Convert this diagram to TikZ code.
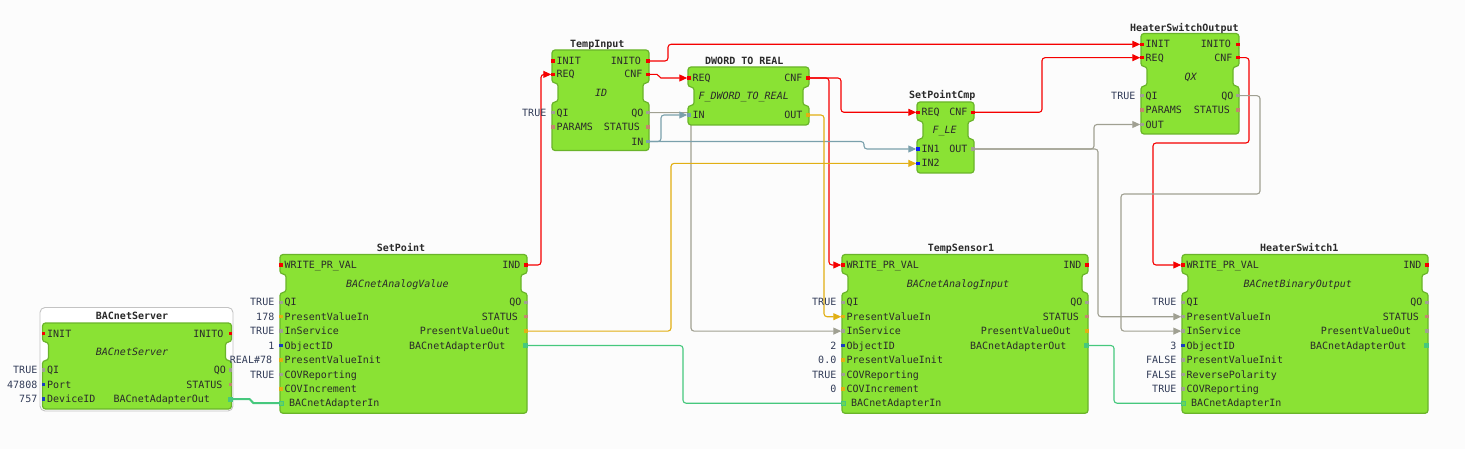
\documentclass[tikz,border=0pt]{standalone}
\usepackage{fontspec}
\newfontfamily\dmono{DejaVu Sans Mono}
\usetikzlibrary{arrows.meta}
\definecolor{bgc}{RGB}{252,252,252}
\definecolor{fbfill}{RGB}{138,226,52}
\definecolor{fbdraw}{RGB}{106,180,42}
\definecolor{evc}{RGB}{245,0,0}
\definecolor{boolc}{RGB}{160,160,146}
\definecolor{dwc}{RGB}{122,160,172}
\definecolor{realc}{RGB}{225,175,20}
\definecolor{intc}{RGB}{25,60,190}
\definecolor{anyc}{RGB}{10,30,250}
\definecolor{strc}{RGB}{195,135,110}
\definecolor{adc}{RGB}{70,200,125}
\definecolor{lblc}{RGB}{42,42,42}
\definecolor{cstc}{RGB}{50,60,88}
\definecolor{framec}{RGB}{195,195,195}
\pgfdeclarelayer{back}
\pgfdeclarelayer{wires}
\pgfsetlayers{back,wires,main}
\tikzset{
  fb/.style={fill=fbfill, draw=fbdraw, line width=1.2pt, rounded corners=3pt},
  pmark/.style={rectangle, inner sep=0pt, minimum width=3.5pt, minimum height=3.5pt, draw=none},
  adout/.style={rectangle, inner sep=0pt, minimum width=5pt, minimum height=5pt, fill=adc},
  adin/.style={rectangle, inner sep=0pt, minimum width=4pt, minimum height=4.5pt, draw=adc, line width=0.9pt, fill=adc!45!fbfill},
  plab/.style={inner sep=0pt, text height=7.2pt, text depth=0pt, font=\dmono\fontsize{10}{12}\selectfont, text=lblc},
  cval/.style={plab, text=cstc},
  ttl/.style={inner sep=0pt, text height=7.2pt, text depth=0pt, font=\dmono\bfseries\fontsize{10}{12}\selectfont, text=lblc},
  tname/.style={inner sep=0pt, text height=7.2pt, text depth=0pt, font=\dmono\itshape\fontsize{10}{12}\selectfont, text=lblc},
  wire/.style={line width=1.1pt, rounded corners=3pt},
  tip/.style={-{Triangle[length=8pt,width=7pt]}},
  evw/.style={wire, draw=evc, tip},
  boolw/.style={wire, draw=boolc, tip},
  dww/.style={wire, draw=dwc, tip},
  realw/.style={wire, draw=realc, tip},
  adw/.style={wire, draw=adc},
  frame/.style={fill=white, draw=framec, line width=0.9pt, rounded corners=5pt}
}
% L R T Eb Dt B
\newcommand\fbshape[6]{\draw[fb] ({(#1+#2)/2},#3) -- (#2,#3) -- (#2,#4) -- ({#2-6},#4) -- ({#2-6},#5) -- (#2,#5) -- (#2,#6) -- (#1,#6) -- (#1,#5) -- ({#1+6},#5) -- ({#1+6},#4) -- (#1,#4) -- (#1,#3) -- cycle;}
% name, x, y, marker options, label
\newcommand\pin[5]{\node[pmark,#4] (#1) at ({#2+1.2},#3) {}; \node[plab,anchor=west] (#1-t) at ({#2+4.5},#3) {#5};}
% name, x, y, marker options, label, extra right offset
\newcommand\pout[6]{\node[pmark,#4] (#1) at ({#2-1.2},#3) {}; \node[plab,anchor=east] (#1-t) at ({#2-5.5-#6},#3) {#5};}
\newcommand\adpin[4]{\node[adin] (#1) at ({#2+1.5},#3) {}; \node[plab,anchor=west] (#1-t) at ({#2+9},#3) {#4};}
\newcommand\adpout[4]{\node[adout] (#1) at ({#2-1.5},#3) {}; \node[plab,anchor=east] (#1-t) at ({#2-21.3},#3) {#4};}
\newcommand\cst[4]{\node[cval,anchor=east] (#1) at ({#2-5.5},#3) {#4};}
\begin{document}
\begin{tikzpicture}[x=1pt,y=-1pt]
\useasboundingbox (0,0) rectangle (1465,449);
\begin{pgfonlayer}{back}
\fill[bgc] (0,0) rectangle (1465,449);
\draw[frame] (40,307.5) rectangle (233,411);
\end{pgfonlayer}

% ---------------- TempInput
\fbshape{552}{649}{50}{83}{102}{150.5}
\node[ttl,anchor=west] (TI-title) at (570,44) {TempInput};
\node[tname,anchor=west] (TI-type) at (595,92.5) {ID};
\pin{TI-INIT}{552}{61}{fill=evc}{INIT}
\pin{TI-REQ}{552}{74.4}{fill=evc}{REQ}
\pout{TI-INITO}{649}{61}{fill=evc}{INITO}{2.4}
\pout{TI-CNF}{649}{74.4}{fill=evc}{CNF}{0.9}
\pin{TI-QI}{552}{112.7}{fill=boolc}{QI}
\pin{TI-PARAMS}{552}{127.1}{fill=strc}{PARAMS}
\pout{TI-QO}{649}{112.7}{fill=boolc}{QO}{0}
\pout{TI-STATUS}{649}{127.1}{fill=strc}{STATUS}{3.4}
\pout{TI-IN}{649}{141.5}{fill=dwc}{IN}{0}
\cst{TI-c1}{552}{112.7}{TRUE}

% ---------------- DWORD TO REAL
\fbshape{688}{809}{67}{87}{105.5}{125}
\node[ttl,anchor=west] (DR-title) at (705,61) {DWORD TO REAL};
\node[tname,anchor=west] (DR-type) at (698.3,96) {F\_DWORD\_TO\_REAL};
\pin{DR-REQ}{688}{78}{fill=evc}{REQ}
\pout{DR-CNF}{809}{78}{fill=evc}{CNF}{0.9}
\pin{DR-IN}{688}{115}{fill=dwc}{IN}
\pout{DR-OUT}{809}{115}{fill=realc}{OUT}{0.9}

% ---------------- SetPointCmp
\fbshape{917}{974}{102}{121}{139}{173}
\node[ttl,anchor=west] (SC-title) at (909,95) {SetPointCmp};
\node[tname,anchor=west] (SC-type) at (932.3,130) {F\_LE};
\pin{SC-REQ}{917}{112.3}{fill=evc}{REQ}
\pout{SC-CNF}{974}{112.3}{fill=evc}{CNF}{0.9}
\pin{SC-IN1}{917}{149}{fill=anyc}{IN1}
\pin{SC-IN2}{917}{163.4}{fill=anyc}{IN2}
\pout{SC-OUT}{974}{149}{fill=boolc}{OUT}{0.9}

% ---------------- HeaterSwitchOutput
\fbshape{1141}{1239}{33.5}{66.5}{86}{134}
\node[ttl,anchor=west] (HO-title) at (1130,27.5) {HeaterSwitchOutput};
\node[tname,anchor=west] (HO-type) at (1184.3,76.5) {QX};
\pin{HO-INIT}{1141}{44.3}{fill=evc}{INIT}
\pin{HO-REQ}{1141}{57.7}{fill=evc}{REQ}
\pout{HO-INITO}{1239}{44.3}{fill=evc}{INITO}{2.4}
\pout{HO-CNF}{1239}{57.7}{fill=evc}{CNF}{0.9}
\pin{HO-QI}{1141}{95.7}{fill=boolc}{QI}
\pin{HO-PARAMS}{1141}{110.1}{fill=strc}{PARAMS}
\pin{HO-OUT}{1141}{124.5}{fill=boolc}{OUT}
\pout{HO-QO}{1239}{95.7}{fill=boolc}{QO}{0}
\pout{HO-STATUS}{1239}{110.1}{fill=strc}{STATUS}{3.4}
\cst{HO-c1}{1141}{95.7}{TRUE}

% ---------------- BACnetServer
\node[ttl,anchor=west] (BS-title) at (95.7,316) {BACnetServer};
\fbshape{42.5}{231.5}{323}{342}{360.5}{409}
\node[tname,anchor=west] (BS-type) at (95.7,351.5) {BACnetServer};
\pin{BS-INIT}{42.5}{333.5}{fill=evc}{INIT}
\pout{BS-INITO}{231.5}{333.5}{fill=evc}{INITO}{2.4}
\pin{BS-QI}{42.5}{370}{fill=boolc}{QI}
\pin{BS-Port}{42.5}{384.5}{fill=intc}{Port}
\pin{BS-DID}{42.5}{399}{fill=intc}{DeviceID}
\pout{BS-QO}{231.5}{370}{fill=boolc}{QO}{0}
\pout{BS-STATUS}{231.5}{384.5}{fill=strc}{STATUS}{3.4}
\adpout{BS-AO}{231.5}{399}{BACnetAdapterOut}
\node[cval,anchor=east] (BS-c1) at (37.5,370) {TRUE};
\node[cval,anchor=east] (BS-c2) at (37.5,384.5) {47808};
\node[cval,anchor=east] (BS-c3) at (37.5,399) {757};

% ---------------- SetPoint
\fbshape{280}{527}{254.5}{274}{292.5}{413.3}
\node[ttl,anchor=west] (SP-title) at (376.7,248) {SetPoint};
\node[tname,anchor=west] (SP-type) at (346,283.5) {BACnetAnalogValue};
\pin{SP-WPV}{280}{265}{fill=evc}{WRITE\_PR\_VAL}
\pout{SP-IND}{527}{265}{fill=evc}{IND}{0.9}
\pin{SP-QI}{280}{302.3}{fill=boolc}{QI}
\pin{SP-PVI}{280}{316.7}{fill=realc}{PresentValueIn}
\pin{SP-IS}{280}{331.1}{fill=boolc}{InService}
\pin{SP-OID}{280}{345.5}{fill=intc}{ObjectID}
\pin{SP-PVInit}{280}{360}{fill=realc}{PresentValueInit}
\pin{SP-COVR}{280}{374.4}{fill=boolc}{COVReporting}
\pin{SP-COVI}{280}{388.8}{fill=realc}{COVIncrement}
\adpin{SP-AI}{280}{403.2}{BACnetAdapterIn}
\pout{SP-QO}{527}{302.3}{fill=boolc}{QO}{0}
\pout{SP-STATUS}{527}{316.7}{fill=strc}{STATUS}{3.4}
\pout{SP-PVO}{527}{331.1}{fill=realc}{PresentValueOut}{11.1}
\adpout{SP-AO}{527}{345.5}{BACnetAdapterOut}
\cst{SP-c1}{280}{302.3}{TRUE}
\cst{SP-c2}{280}{316.7}{178}
\cst{SP-c3}{280}{331.1}{TRUE}
\cst{SP-c4}{280}{345.5}{1}
\node[cval,anchor=east] (SP-c5) at (272.3,360) {REAL\#78};
\cst{SP-c6}{280}{374.4}{TRUE}

% ---------------- TempSensor1
\fbshape{842}{1088}{254.5}{274}{292.5}{413.3}
\node[ttl,anchor=west] (TS-title) at (927.7,248) {TempSensor1};
\node[tname,anchor=west] (TS-type) at (906.7,283.5) {BACnetAnalogInput};
\pin{TS-WPV}{842}{265}{fill=evc}{WRITE\_PR\_VAL}
\pout{TS-IND}{1088}{265}{fill=evc}{IND}{0.9}
\pin{TS-QI}{842}{302.3}{fill=boolc}{QI}
\pin{TS-PVI}{842}{316.7}{fill=realc}{PresentValueIn}
\pin{TS-IS}{842}{331.1}{fill=boolc}{InService}
\pin{TS-OID}{842}{345.5}{fill=intc}{ObjectID}
\pin{TS-PVInit}{842}{360}{fill=realc}{PresentValueInit}
\pin{TS-COVR}{842}{374.4}{fill=boolc}{COVReporting}
\pin{TS-COVI}{842}{388.8}{fill=realc}{COVIncrement}
\adpin{TS-AI}{842}{403.2}{BACnetAdapterIn}
\pout{TS-QO}{1088}{302.3}{fill=boolc}{QO}{0}
\pout{TS-STATUS}{1088}{316.7}{fill=strc}{STATUS}{3.4}
\pout{TS-PVO}{1088}{331.1}{fill=realc}{PresentValueOut}{11.1}
\adpout{TS-AO}{1088}{345.5}{BACnetAdapterOut}
\cst{TS-c1}{842}{302.3}{TRUE}
\cst{TS-c2}{842}{345.5}{2}
\cst{TS-c3}{842}{360}{0.0}
\cst{TS-c4}{842}{374.4}{TRUE}
\cst{TS-c5}{842}{388.8}{0}

% ---------------- HeaterSwitch1
\fbshape{1182}{1428}{254.5}{274}{292.5}{413.3}
\node[ttl,anchor=west] (HS-title) at (1260,248) {HeaterSwitch1};
\node[tname,anchor=west] (HS-type) at (1243.3,283.5) {BACnetBinaryOutput};
\pin{HS-WPV}{1182}{265}{fill=evc}{WRITE\_PR\_VAL}
\pout{HS-IND}{1428}{265}{fill=evc}{IND}{0.9}
\pin{HS-QI}{1182}{302.3}{fill=boolc}{QI}
\pin{HS-PVI}{1182}{316.7}{fill=boolc}{PresentValueIn}
\pin{HS-IS}{1182}{331.1}{fill=boolc}{InService}
\pin{HS-OID}{1182}{345.5}{fill=intc}{ObjectID}
\pin{HS-PVInit}{1182}{360}{fill=boolc}{PresentValueInit}
\pin{HS-RP}{1182}{374.4}{fill=boolc}{ReversePolarity}
\pin{HS-COVR}{1182}{388.8}{fill=boolc}{COVReporting}
\adpin{HS-AI}{1182}{403.2}{BACnetAdapterIn}
\pout{HS-QO}{1428}{302.3}{fill=boolc}{QO}{0}
\pout{HS-STATUS}{1428}{316.7}{fill=strc}{STATUS}{3.4}
\pout{HS-PVO}{1428}{331.1}{fill=boolc}{PresentValueOut}{11.1}
\adpout{HS-AO}{1428}{345.5}{BACnetAdapterOut}
\cst{HS-c1}{1182}{302.3}{TRUE}
\cst{HS-c2}{1182}{345.5}{3}
\cst{HS-c3}{1182}{360}{FALSE}
\cst{HS-c4}{1182}{374.4}{FALSE}
\cst{HS-c5}{1182}{388.8}{TRUE}

% ---------------- connections
\begin{pgfonlayer}{wires}
\draw[evw] (SP-IND) -| (541,74.4) -- (TI-REQ);
\draw[evw] (TI-INITO) -| (668,44.3) -- (HO-INIT);
\draw[evw, sharp corners] (TI-CNF) -- (657,74.4) -- (661,78) -- (DR-REQ);
\draw[evw] (DR-CNF) -| (829,265) -- (TS-WPV);
\draw[evw] (DR-CNF) -| (841,112.3) -- (SC-REQ);
\draw[evw] (SC-CNF) -| (1042,57.7) -- (HO-REQ);
\draw[evw] (HO-CNF) -| (1249,143) -| (1153,265) -- (HS-WPV);
\draw[boolw] (TI-QO) -| (691,331.1) -- (TS-IS);
\draw[dww] (TI-IN) -| (661,115) -- (DR-IN);
\draw[dww] (TI-IN) -| (864,149) -- (SC-IN1);
\draw[realw] (DR-OUT) -| (824,316.7) -- (TS-PVI);
\draw[realw] (SP-PVO) -| (671,163.4) -- (SC-IN2);
\draw[boolw] (SC-OUT) -| (1094,124.5) -- (HO-OUT);
\draw[boolw] (SC-OUT) -| (1098,316.7) -- (HS-PVI);
\draw[boolw] (HO-QO) -| (1260,194) -| (1121,331.1) -- (HS-IS);
\draw[adw, line width=2pt, sharp corners] (BS-AO) -- (249.5,399) -- (253.5,403.2) -- (SP-AI);
\draw[adw] (SP-AO) -| (683,403.2) -- (TS-AI);
\draw[adw] (TS-AO) -| (1114,403.2) -- (HS-AI);
\end{pgfonlayer}
\end{tikzpicture}
\end{document}
